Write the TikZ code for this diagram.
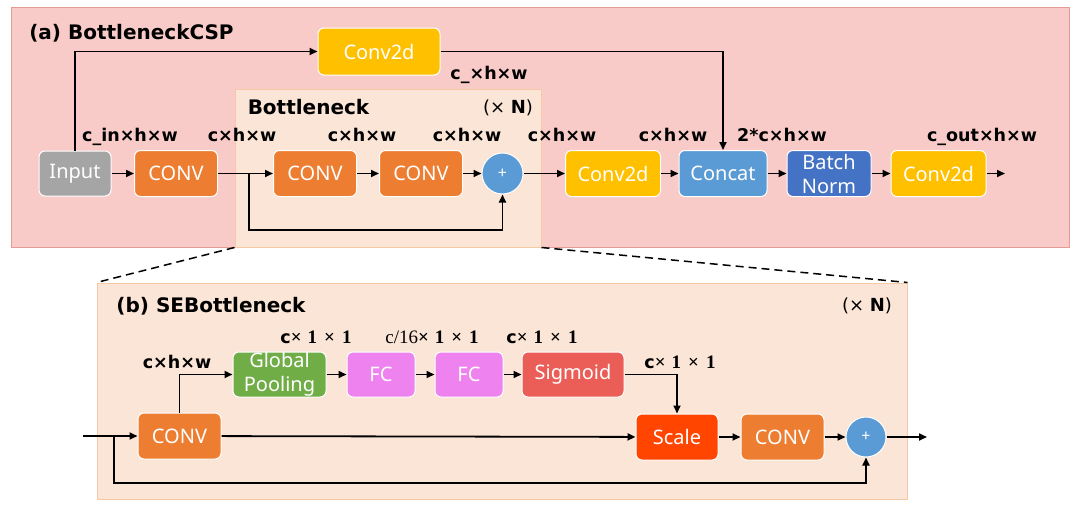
\documentclass[tikz,border=0pt]{standalone}
\usepackage{fontspec}
\setmainfont{Noto Sans}
\newfontfamily\lblfont{DejaVu Sans}
\newfontfamily\numfont{Liberation Serif}
\usetikzlibrary{arrows.meta}

\definecolor{panelpink}{HTML}{F8CBC8}
\definecolor{panelred}{HTML}{E59C97}
\definecolor{panelpeach}{HTML}{FBE5D6}
\definecolor{paneledge}{HTML}{F6C8A4}
\definecolor{convorange}{HTML}{ED7D31}
\definecolor{convgold}{HTML}{FFC000}
\definecolor{catblue}{HTML}{5B9BD5}
\definecolor{normblue}{HTML}{4472C4}
\definecolor{inputgray}{HTML}{A5A5A5}
\definecolor{poolgreen}{HTML}{70AD47}
\definecolor{fcviolet}{HTML}{EE82EE}
\definecolor{sigred}{HTML}{EB5E57}
\definecolor{scalered}{HTML}{FF4500}

\newcommand{\onebyone}{{\numfont\bfseries\fontsize{19}{20}\selectfont ×\hspace{6pt}1\hspace{7pt}×\hspace{7pt}1}}

\tikzset{
  blk/.style={draw=white,line width=1pt,rounded corners=6pt,text=white,inner sep=0pt,
    minimum height=46pt,align=center,font=\fontsize{20}{24}\selectfont},
  sum/.style={circle,draw=white,line width=1pt,fill=catblue,text=white,inner sep=0pt,
    minimum size=41pt,font=\fontsize{16}{16}\selectfont},
  dim/.style={font=\lblfont\bfseries\fontsize{17.5}{20}\selectfont,text height=13pt,
    text depth=0pt,inner sep=0pt},
  ttl/.style={font=\lblfont\bfseries\fontsize{20}{24}\selectfont,text height=15pt,
    text depth=0pt,inner sep=0pt},
  rep/.style={font=\lblfont\fontsize{18}{20}\selectfont,text height=13pt,text depth=0pt,
    inner sep=0pt},
  panel/.style={inner sep=0pt,line width=1pt},
  arr/.style={-{Triangle[length=8pt,width=7pt]},line width=1.8pt},
}

\begin{document}
\begin{tikzpicture}[x=1pt,y=-1pt]
      \useasboundingbox (0,0) rectangle (1080,509);
      \draw
        (540,127) node[panel,draw=panelred,fill=panelpink,minimum width=1058pt,minimum height=240pt] (csp){}
        (388,168) node[panel,draw=paneledge,fill=panelpeach,minimum width=306pt,minimum height=158pt] (bneck){}
        (502,391) node[panel,draw=paneledge,fill=panelpeach,minimum width=810pt,minimum height=216pt] (seb){};
      \draw[dashed,line width=1.5pt,dash pattern=on 8pt off 5pt] (bneck.south west) -- (seb.north west);
      \draw[dashed,line width=1.5pt,dash pattern=on 8pt off 5pt] (bneck.south east) -- (seb.north east);
      \draw
        (131.5,32) node[ttl] (ttla){(a) BottleneckCSP}
        (308.5,107) node[ttl] (ttlbn){Bottleneck}
        (508,107) node[rep] (repa){(× \textbf{N})}
        (211,305) node[ttl] (ttlb){(b) SEBottleneck}
        (867,305) node[rep] (repb){(× \textbf{N})};
      \draw
        (379,51.5) node[blk,fill=convgold,minimum width=122pt,minimum height=47pt] (c2t){Conv2d}
        (75,173.5) node[blk,fill=inputgray,minimum width=72pt,minimum height=45pt] (in){Input}
        (176,173.5) node[blk,fill=convorange,minimum width=83pt] (cv1){CONV}
        (315,173.5) node[blk,fill=convorange,minimum width=83pt] (cv2){CONV}
        (421,173.5) node[blk,fill=convorange,minimum width=83pt] (cv3){CONV}
        (502.5,173.5) node[sum] (pl){+}
        (613,173.5) node[blk,fill=convgold,minimum width=95pt] (c2a){Conv2d}
        (723,173.5) node[blk,fill=catblue,minimum width=88pt] (cat){Concat}
        (829,173.5) node[blk,fill=normblue,minimum width=84pt] (bn){Batch\\Norm}
        (938.5,173.5) node[blk,fill=convgold,minimum width=95pt] (c2b){Conv2d};
      \draw
        (179.5,436) node[blk,fill=convorange,minimum width=83pt] (sc1){CONV}
        (279.5,374.5) node[blk,fill=poolgreen,minimum width=93pt,minimum height=45pt] (gp){Global\\Pooling}
        (381,374.5) node[blk,fill=fcviolet,minimum width=68pt,minimum height=45pt] (fc1){FC}
        (469,374.5) node[blk,fill=fcviolet,minimum width=68pt,minimum height=45pt] (fc2){FC}
        (573,374.5) node[blk,fill=sigred,minimum width=102pt,minimum height=45pt] (sig){Sigmoid}
        (677,437) node[blk,fill=scalered,minimum width=82pt] (scl){Scale}
        (782.5,437) node[blk,fill=convorange,minimum width=83pt] (sc2){CONV}
        (866,437) node[sum,minimum size=40pt] (spl){+};
      \draw
        (489,73) node[dim] (d0){c\_×h×w}
        (130,135) node[dim] (d1){c\_in×h×w}
        (242,135) node[dim] (d2){c×h×w}
        (362,135) node[dim] (d3){c×h×w}
        (467,135) node[dim] (d4){c×h×w}
        (562,135) node[dim] (d5){c×h×w}
        (673,135) node[dim] (d6){c×h×w}
        (782,135) node[dim] (d7){2*c×h×w}
        (982,135) node[dim] (d8){c\_out×h×w}
        (177,362) node[dim] (e1){c×h×w}
        (316,337) node[dim] (e2){c\onebyone}
        (432,337) node[dim] (e3){{\mdseries\numfont\fontsize{19}{20}\selectfont c/16}\onebyone}
        (542,337) node[dim] (e4){c\onebyone}
        (680,362) node[dim] (e5){c\onebyone};
      \coordinate (abr) at (249,173.5);
      \coordinate (abot) at (249,230);
      \coordinate (aout) at (1005,173.5);
      \coordinate (bin) at (83,436);
      \coordinate (bbr) at (114,436);
      \coordinate (bbot) at (114,483);
      \coordinate (bout) at (927,437);
      \begin{scope}[arr]
        \draw (in.north) |- (c2t.west);
        \draw (c2t.east) -| (cat.north);
        \draw (in) to (cv1);
        \draw (cv1) to (cv2);
        \draw (abr) -- (abot) -| (pl.south);
        \draw (cv2) to (cv3);
        \draw (cv3) to (pl);
        \draw (pl) to (c2a);
        \draw (c2a) to (cat);
        \draw (cat) to (bn);
        \draw (bn) to (c2b);
        \draw (c2b) to (aout);
        \draw (bin) to (sc1);
        \draw (bbr) -- (bbot) -| (spl.south);
        \draw (sc1.north) |- (gp.west);
        \draw (gp) to (fc1);
        \draw (fc1) to (fc2);
        \draw (fc2) to (sig);
        \draw (sig.east) -| (scl.north);
        \draw (sc1) to (scl);
        \draw (scl) to (sc2);
        \draw (sc2) to (spl);
        \draw (spl) to (bout);
      \end{scope}
    \end{tikzpicture}
\end{document}
